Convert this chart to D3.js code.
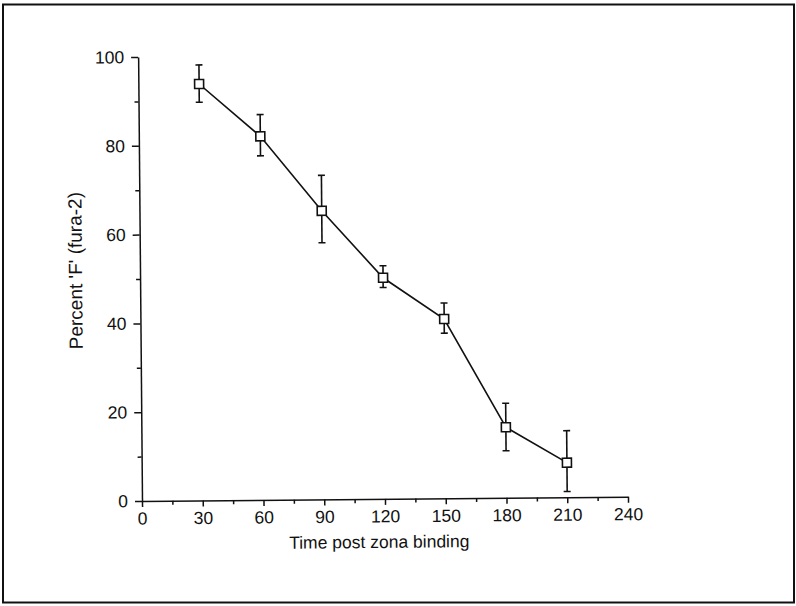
<!DOCTYPE html>
<html>
<head>
<meta charset="utf-8">
<script src="https://cdn.jsdelivr.net/npm/d3@7"></script>
<style>
  body { margin: 0; background: #fff; }
  svg { display: block; font-family: "Liberation Sans", Arial, Helvetica, sans-serif; }
  .axis path, .axis line { stroke: #111; stroke-width: 1.5; }
  .axis text { font-size: 17.5px; fill: #111; }
  .series { fill: none; stroke: #111; stroke-width: 1.6; }
  .err { stroke: #111; stroke-width: 1.6; }
  .marker { fill: #fff; stroke: #111; stroke-width: 1.6; }
  .label { font-size: 17.5px; fill: #111; }
  .label.y { font-size: 19px; }
</style>
</head>
<body>
<div id="chart-container"></div>
<script>
const times = [30, 60, 90, 120, 150, 180, 210];
const percentF = [93.8, 81.9, 65.0, 49.8, 40.4, 15.9, 7.8];
const errUpper = [98.1, 86.8, 73.0, 52.5, 44.0, 21.3, 15.0];
const errLower = [89.7, 77.5, 57.8, 47.6, 37.2, 10.6, 1.3];
const xTicks = [0, 30, 60, 90, 120, 150, 180, 210, 240];
const xMinorTicks = [15, 45, 75, 105, 135, 165, 195, 225];
const yTicks = [0, 20, 40, 60, 80, 100];
const yMinorTicks = [10, 30, 50, 70, 90];

const width = 796;
const height = 606;
const margins = { top: 57, left: 142 };
const chartWidth = 486;
const chartHeight = 444;

const data = times.map((t, i) => ({
  t: t,
  v: percentF[i],
  hi: errUpper[i],
  lo: errLower[i]
}));

const svg = d3
  .select("#chart-container")
  .append("svg")
  .attr("width", width)
  .attr("height", height);

// scanned page frame
svg
  .append("rect")
  .attr("x", 3)
  .attr("y", 4.5)
  .attr("width", 791)
  .attr("height", 598)
  .attr("fill", "none")
  .attr("stroke", "#111")
  .attr("stroke-width", 2);

const xScale = d3.scaleLinear().domain([0, 240]).range([0, chartWidth]);
const yScale = d3.scaleLinear().domain([0, 100]).range([chartHeight, 0]);

// the scan is tilted a little, so the plot is rotated about its origin
const chart = svg
  .append("g")
  .attr("transform", `translate(${margins.left}, ${margins.top}) rotate(-0.5 0 ${chartHeight})`);

chart
  .append("g")
  .attr("class", "axis")
  .call(d3.axisLeft(yScale).tickValues(yTicks).tickSize(7).tickSizeOuter(0).tickPadding(7));

chart
  .append("g")
  .attr("class", "axis")
  .call(d3.axisLeft(yScale).tickValues(yMinorTicks).tickSize(4).tickFormat(""))
  .select(".domain")
  .remove();

chart
  .append("g")
  .attr("class", "axis")
  .attr("transform", `translate(0, ${chartHeight})`)
  .call(d3.axisBottom(xScale).tickValues(xTicks).tickSize(6).tickSizeOuter(0).tickPadding(5));

chart
  .append("g")
  .attr("class", "axis")
  .attr("transform", `translate(0, ${chartHeight})`)
  .call(d3.axisBottom(xScale).tickValues(xMinorTicks).tickSize(4).tickFormat(""))
  .select(".domain")
  .remove();

const line = d3
  .line()
  .x(d => xScale(d.t))
  .y(d => yScale(d.v));

chart.append("path").datum(data).attr("class", "series").attr("d", line);

const capW = 3.5;
const errs = chart.selectAll(".errbar").data(data).enter().append("g").attr("class", "errbar");

errs
  .append("line")
  .attr("class", "err")
  .attr("x1", d => xScale(d.t))
  .attr("x2", d => xScale(d.t))
  .attr("y1", d => yScale(d.hi))
  .attr("y2", d => yScale(d.lo));

errs
  .append("line")
  .attr("class", "err")
  .attr("x1", d => xScale(d.t) - capW)
  .attr("x2", d => xScale(d.t) + capW)
  .attr("y1", d => yScale(d.hi))
  .attr("y2", d => yScale(d.hi));

errs
  .append("line")
  .attr("class", "err")
  .attr("x1", d => xScale(d.t) - capW)
  .attr("x2", d => xScale(d.t) + capW)
  .attr("y1", d => yScale(d.lo))
  .attr("y2", d => yScale(d.lo));

const markerSize = 9;
chart
  .selectAll(".marker")
  .data(data)
  .enter()
  .append("rect")
  .attr("class", "marker")
  .attr("x", d => xScale(d.t) - markerSize / 2)
  .attr("y", d => yScale(d.v) - markerSize / 2)
  .attr("width", markerSize)
  .attr("height", markerSize);

chart
  .append("text")
  .attr("class", "label")
  .attr("x", xScale(117))
  .attr("y", chartHeight + 49)
  .attr("text-anchor", "middle")
  .text("Time post zona binding");

chart
  .append("text")
  .attr("class", "label y")
  .attr("transform", `translate(-58, ${yScale(52)}) rotate(-90)`)
  .attr("text-anchor", "middle")
  .text("Percent 'F' (fura-2)");
</script>
</body>
</html>
